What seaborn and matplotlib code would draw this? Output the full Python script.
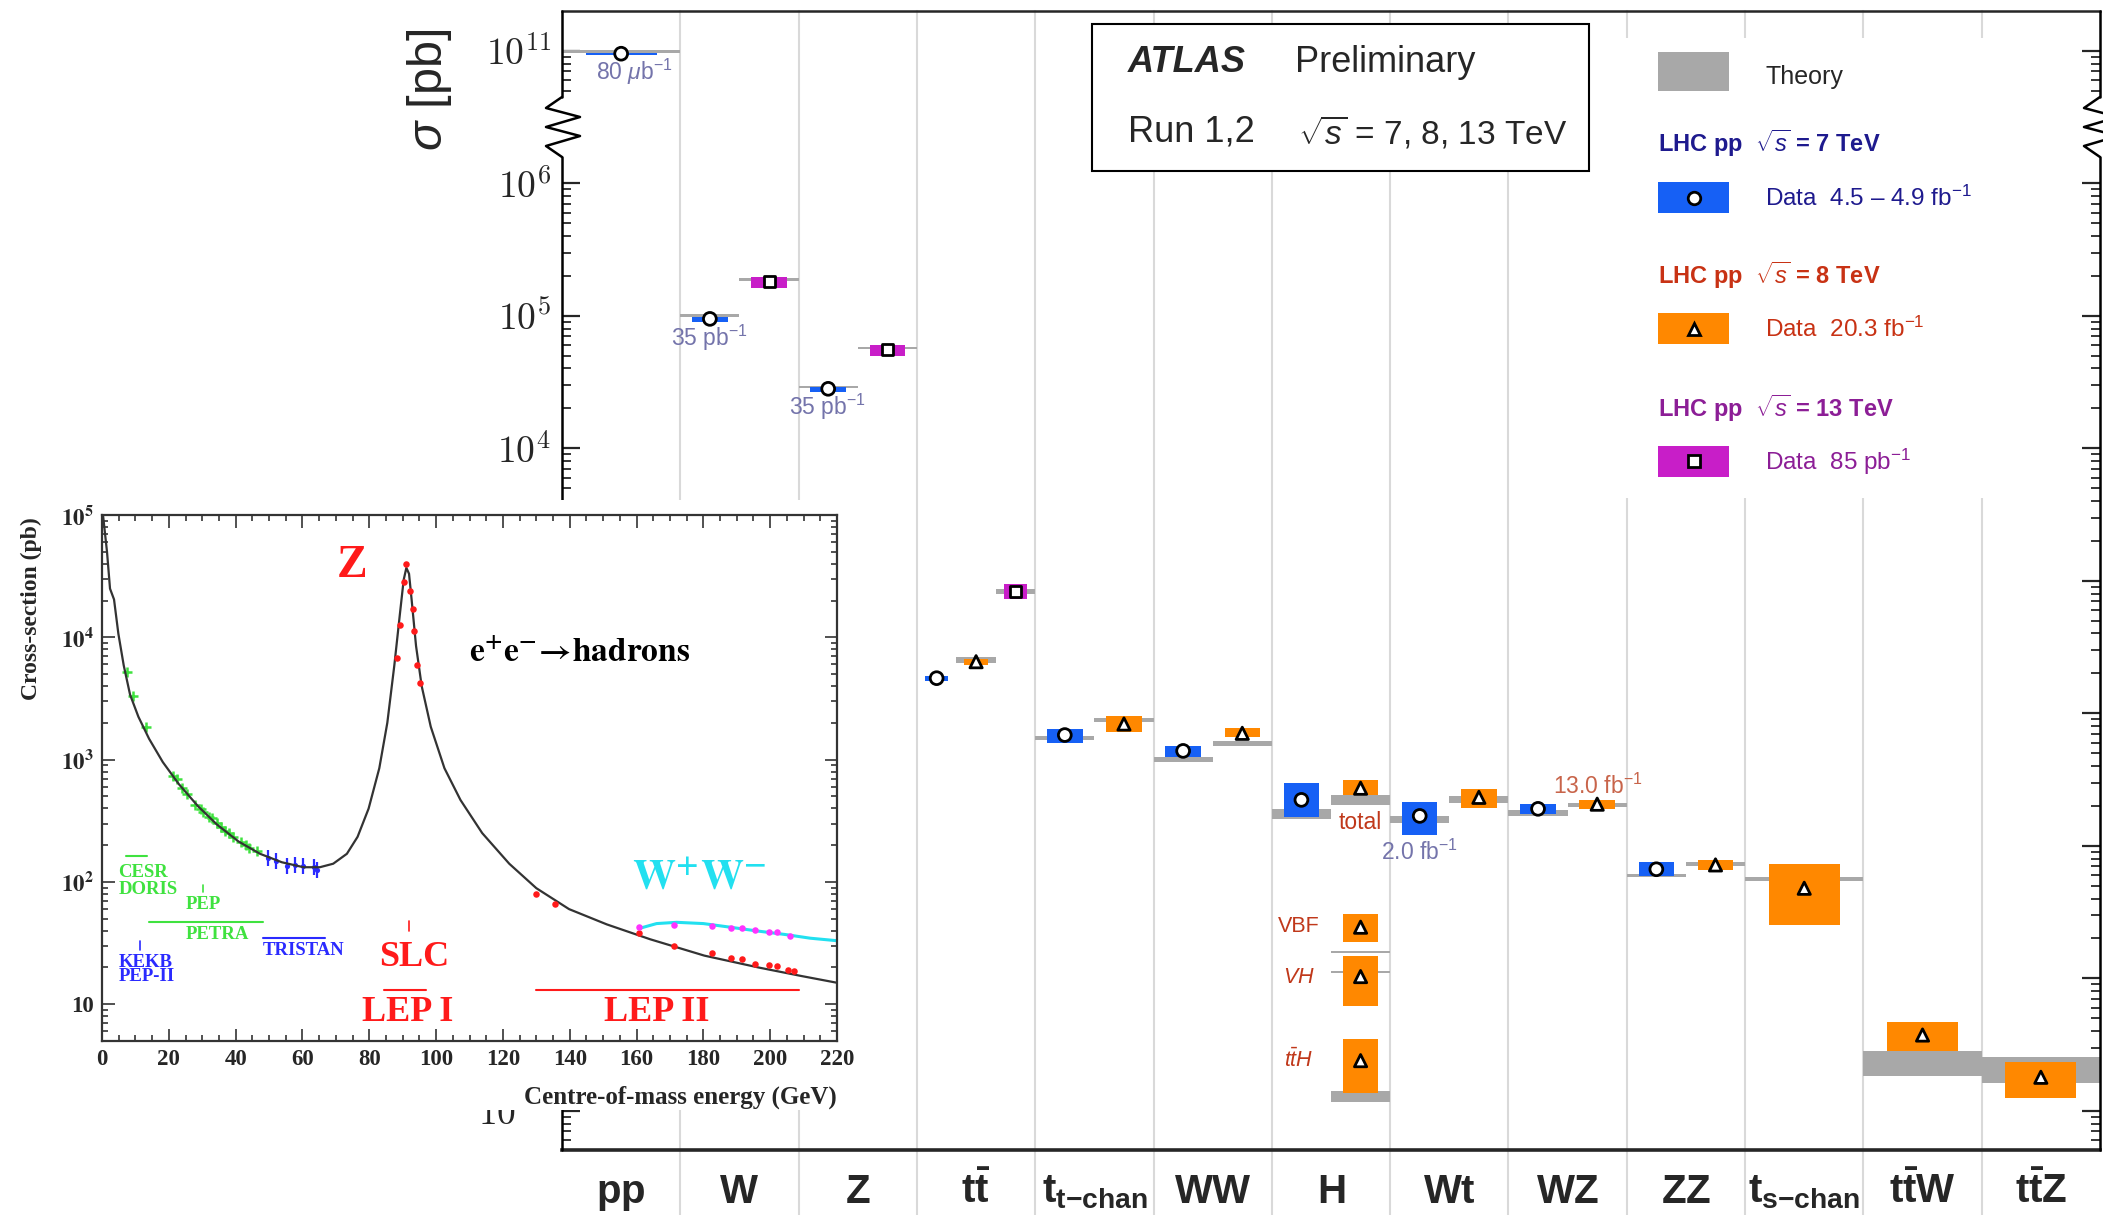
import numpy as np
import pandas as pd
import matplotlib
matplotlib.use("Agg")
import matplotlib.pyplot as plt
import matplotlib.ticker as mticker
from matplotlib.patches import Rectangle
from matplotlib.lines import Line2D
import seaborn as sns

sns.set_style("ticks")
plt.rcParams['font.family'] = ['Liberation Sans', 'DejaVu Sans']
plt.rcParams['mathtext.fontset'] = 'custom'
plt.rcParams['mathtext.rm'] = 'Liberation Sans'
plt.rcParams['mathtext.it'] = 'Liberation Sans:italic'
plt.rcParams['mathtext.bf'] = 'Liberation Sans:bold'
plt.rcParams['mathtext.sf'] = 'Liberation Sans'

# ---------------- main summary data (pb) ----------------
processes = ['pp', 'W', 'Z', 'tt', 'tchan', 'WW', 'H', 'Wt', 'WZ', 'ZZ', 'tschan', 'ttW', 'ttZ']
process_labels = [r'$\mathbf{pp}$', r'$\mathbf{W}$', r'$\mathbf{Z}$', r'$\mathbf{t\bar{t}}$',
                  r'$\mathbf{t_{t{-}chan}}$', r'$\mathbf{WW}$', r'$\mathbf{H}$', r'$\mathbf{Wt}$',
                  r'$\mathbf{WZ}$', r'$\mathbf{ZZ}$', r'$\mathbf{t_{s{-}chan}}$',
                  r'$\mathbf{t\bar{t}W}$', r'$\mathbf{t\bar{t}Z}$']
slots_per_process = [1, 2, 2, 3, 2, 2, 2, 2, 2, 2, 1, 1, 1]

meas_process = ['pp', 'W', 'W', 'Z', 'Z', 'tt', 'tt', 'tt', 'tchan', 'tchan', 'WW', 'WW',
                'H', 'H', 'H', 'H', 'H', 'Wt', 'Wt', 'WZ', 'WZ', 'ZZ', 'ZZ', 'tschan', 'ttW', 'ttZ']
meas_slot = [0, 0, 1, 0, 1, 0, 1, 2, 0, 1, 0, 1, 0, 1, 1, 1, 1, 0, 1, 0, 1, 0, 1, 0, 0, 0]
meas_energy = ['7', '7', '13', '7', '13', '7', '8', '13', '7', '8', '7', '8',
               '7', '8', '8', '8', '8', '7', '8', '7', '8', '7', '8', '8', '8', '8']
data_xsec = [9.5e10, 9.47e4, 1.80e5, 2.81e4, 5.52e4, 184, 245, 828, 68.5, 83, 52, 70.6,
             22.2, 27.2, 2.43, 1.03, 0.239, 16.8, 23.2, 19.0, 20.6, 6.65, 7.17, 4.78, 0.373, 0.179]
data_lo = [9.3e10, 9.0e4, 1.62e5, 2.68e4, 4.99e4, 175, 231, 728, 60.0, 71.8, 47.0, 66.1,
           16.4, 24.3, 1.89, 0.62, 0.136, 12.1, 19.2, 17.4, 19.0, 5.94, 6.58, 2.53, 0.283, 0.124]
data_hi = [9.7e10, 9.8e4, 1.96e5, 2.92e4, 6.03e4, 191, 256, 946, 76.2, 95.5, 56.6, 77.6,
           29.6, 31.5, 3.06, 1.48, 0.347, 21.5, 26.7, 20.6, 22.1, 7.59, 7.82, 7.3, 0.468, 0.234]
theory_lo = [9.65e10, 9.87e4, 1.84e5, 2.87e4, 5.6e4, np.nan, 239, 795, 62.9, 86.1, 42.9, 56.6,
             15.9, 20.4, 1.56, 1.10, 0.116, 14.9, 21.1, 16.8, 19.7, 5.78, 7.08, 5.45, 0.183, 0.163]
theory_hi = [1.005e11, 1.03e5, 1.92e5, 2.96e4, 5.82e4, np.nan, 265.5, 867, 67.8, 92.2, 46.8, 61.7,
             19.0, 24.3, 1.61, 1.14, 0.142, 16.8, 23.8, 18.6, 21.1, 6.12, 7.55, 5.78, 0.284, 0.254]

# pp sits above the axis break: 10^11 is drawn where 10^7 would be
break_shift = {'pp': 1e4}

ann_text = ['80 $\\mu$b$^{-1}$', '35 pb$^{-1}$', '35 pb$^{-1}$', '2.0 fb$^{-1}$', '13.0 fb$^{-1}$', 'total']
ann_x = [0.61, 1.243, 2.24, 7.244, 8.757, 6.745]
ann_y = [6.9e6, 6.8e4, 2.05e4, 9.0, 28.2, 15.1]
ann_color = ['#7474ab', '#7474ab', '#7474ab', '#7474ab', '#c8644a', '#c0381a']

higgs_text = ['VBF', '$VH$', r'$t\bar{t}H$']
higgs_y = [2.48, 1.02, 0.238]

energy_colors = {'7': '#1660f5', '8': '#ff8800', '13': '#c81ec8'}

# ---------------- inset: e+e- -> hadrons (pb vs GeV) ----------------
curve_energy = [0.3, 1.5, 2.4, 3.6, 4.9, 6.5, 8.4, 10.9, 14.1, 18.2, 23.0, 28.7, 34.4, 40.9, 47.3,
                53.8, 60.3, 65.2, 69.2, 73.3, 76.5, 79.8, 83.0, 85.4, 87.5, 89.2, 90.3, 91.1, 91.9,
                92.7, 94.0, 95.7, 98.4, 102.5, 107.3, 113.8, 121.9, 130.0, 139.8, 151.1, 164.1,
                180.3, 196.5, 209.5, 220.0]
curve_sigma = [1e5, 5.0e4, 2.5e4, 2.04e4, 1.07e4, 5.9e3, 3.4e3, 2.24e3, 1.48e3, 955, 631, 417, 295,
               214, 170, 145, 132, 132, 141, 170, 234, 398, 851, 2.0e3, 5.9e3, 1.58e4, 2.95e4,
               3.7e4, 3.31e4, 2.0e4, 8.5e3, 3.98e3, 1.86e3, 851, 468, 251, 141, 89, 60, 45, 34,
               25, 20, 17, 15]
ww_energy = [160.8, 166, 172, 180, 188, 196, 204.5, 212, 220]
ww_sigma = [41.7, 45.7, 46.8, 45.7, 42.7, 39.8, 37.2, 34.7, 33.1]
green_energy = [7.6, 9.2, 13.3, 21.4, 22.5, 23.8, 25.4, 27.9, 29.5, 30.3, 31.9, 33, 34.4, 35.5,
                36.8, 38, 39.2, 41.7, 43, 44.1, 46.5]
green_sigma = [5250, 3310, 1860, 741, 692, 589, 525, 427, 398, 372, 339, 331, 302, 282, 263, 251,
               234, 214, 200, 191, 178]
blue_energy = [49.8, 52.2, 55.4, 57.9, 60.3, 63.5, 64.3]
blue_sigma = [158, 148, 135, 138, 135, 132, 126]
red_energy = [88.3, 89.1, 90.3, 91.1, 92.2, 93.0, 93.5, 94.3, 95.1,
              130, 135.7, 160.8, 171.3, 182.7, 188.3, 191.6, 195.6, 199.7, 202, 205.3, 207]
red_sigma = [6760, 12600, 28200, 39800, 24000, 17000, 11200, 5890, 4270,
             79.4, 66.1, 38.0, 30.2, 26.3, 24.0, 23.4, 21.4, 20.9, 20.4, 19.1, 18.6]
mag_energy = [160.8, 171.3, 182.7, 188.3, 191.6, 195.6, 199.7, 202, 206]
mag_sigma = [42.7, 44.7, 43.7, 41.7, 41.7, 40.7, 38.9, 38.9, 36.3]

W_PX, H_PX = 2103, 1215


def fx(px):
    return px / W_PX


def fy(py):
    return 1 - py / H_PX


df = pd.DataFrame({'process': meas_process, 'slot': meas_slot, 'energy': meas_energy,
                   'data': data_xsec, 'data_lo': data_lo, 'data_hi': data_hi,
                   'theory_lo': theory_lo, 'theory_hi': theory_hi})
df['col'] = df['process'].map(processes.index)
df['nslot'] = df['col'].map(lambda c: slots_per_process[c])
df['x'] = df['col'] + (df['slot'] + 0.5) / df['nslot']
df['shift'] = df['process'].map(lambda p: break_shift.get(p, 1.0))
df['y'] = df['data'] / df['shift']

fig = plt.figure(figsize=(21.03, 12.15), dpi=100)
ax = fig.add_axes([fx(562), fy(1150), fx(2100) - fx(562), fy(11) - fy(1150)])
ax.set_yscale('log')
ax.set_xlim(0, len(processes))
ax.set_ylim(10 ** -1.296, 10 ** 7.30)

# column separators, running down through the label row
for b in range(1, len(processes)):
    ax.plot([b, b], [-0.06, 1], transform=ax.get_xaxis_transform(), color='#d9d9d9',
            lw=1.5, clip_on=False, zorder=1)

# theory bands
th = df.dropna(subset=['theory_lo'])
ax.bar(th['col'] + th['slot'] / th['nslot'], (th['theory_hi'] - th['theory_lo']) / th['shift'],
       bottom=th['theory_lo'] / th['shift'], width=1 / th['nslot'], align='edge',
       color='#a8a8a8', linewidth=0, zorder=2)

# data uncertainty boxes
for e, c in energy_colors.items():
    sub = df[df['energy'] == e]
    ax.bar(sub['x'], (sub['data_hi'] - sub['data_lo']) / sub['shift'],
           bottom=sub['data_lo'] / sub['shift'], width=0.6 / sub['nslot'],
           color=c, linewidth=0, zorder=3)

sns.scatterplot(data=df, x='x', y='y', style='energy', markers={'7': 'o', '8': '^', '13': 's'},
                size='energy', sizes={'7': 85, '8': 78, '13': 62}, color='white',
                edgecolor='black', linewidth=2, legend=False, zorder=5, ax=ax)
ax.set_xlabel('')
ax.set_ylabel('')

for t, x, y, c in zip(ann_text, ann_x, ann_y, ann_color):
    ax.text(x, y, t, color=c, fontsize=16.5, ha='center', va='center', zorder=6)
for t, y in zip(higgs_text, higgs_y):
    ax.text(6.23, y, t, color='#c0381a', fontsize=15.5, ha='center', va='center', zorder=6)

# axes ticks
ax.set_xticks(np.arange(len(processes)) + 0.5)
ax.set_xticklabels(process_labels, fontsize=29)
ax.tick_params(axis='x', length=0, pad=38)
for lbl in ax.get_xticklabels():
    lbl.set_verticalalignment('baseline')

major_ticks = [10.0 ** k for k in range(-1, 8)]
major_labels = ['$10^{%d}$' % k for k in range(-1, 7)] + ['$10^{11}$']
minor_ticks = [m * 10.0 ** k for k in range(-2, 6) for m in range(2, 10)] + [m * 1e6 for m in range(5, 10)]
minor_ticks = [t for t in minor_ticks if 10 ** -1.296 < t < 10 ** 7.3]
ax.set_yticks(major_ticks, labels=major_labels)
ax.set_yticks(minor_ticks, minor=True)
ax.yaxis.set_minor_formatter(mticker.NullFormatter())
ax.tick_params(axis='y', which='both', direction='in', left=True, right=True, labelsize=27, pad=8)
ax.tick_params(axis='y', which='major', length=13, width=1.6)
ax.tick_params(axis='y', which='minor', length=6.5, width=1.3)
for lbl in ax.get_yticklabels():
    lbl.set_math_fontfamily('cm')

# frame with the axis-break zigzag on both sides
ax.spines['left'].set_visible(False)
ax.spines['right'].set_visible(False)
ax.spines['top'].set_linewidth(1.8)
ax.spines['bottom'].set_linewidth(2.6)
zig_y = np.array([(1150 - p) / 1139 for p in [97, 108, 117, 127, 136, 146, 157]])
zig_dx = np.array([0, -16, 18, -16, 18, -16, 0]) / 1538
for x0 in [0, 1]:
    ax.plot([x0, x0], [0, zig_y[-1]], transform=ax.transAxes, color='black', lw=1.8, clip_on=False, zorder=6)
    ax.plot([x0, x0], [zig_y[0], 1], transform=ax.transAxes, color='black', lw=1.8, clip_on=False, zorder=6)
    ax.plot(x0 + zig_dx, zig_y, transform=ax.transAxes, color='black', lw=1.8, clip_on=False, zorder=6)

fig.text(fx(430), fy(90), r'$\sigma$ [pb]', rotation=90, fontsize=35, ha='center', va='center')

# ATLAS box
fig.add_artist(Rectangle((fx(1092), fy(171)), fx(1589) - fx(1092), fy(24) - fy(171),
                         transform=fig.transFigure, facecolor='white', edgecolor='black', lw=1.5, zorder=3))
fig.text(fx(1128), fy(62), 'ATLAS', fontsize=26, fontweight='bold', fontstyle='italic', va='center', zorder=4)
fig.text(fx(1295), fy(62), 'Preliminary', fontsize=26, va='center', zorder=4)
fig.text(fx(1128), fy(132), 'Run 1,2', fontsize=26, va='center', zorder=4)
fig.text(fx(1298), fy(132), r'$\sqrt{s}$ = 7, 8, 13 TeV', fontsize=24, va='center', zorder=4)

# legend
fig.add_artist(Rectangle((fx(1620), fy(498)), fx(2080) - fx(1620), fy(38) - fy(498),
                         transform=fig.transFigure, facecolor='white', edgecolor='none', zorder=3))
fig.add_artist(Rectangle((fx(1658), fy(91)), fx(71), fy(52) - fy(91), transform=fig.transFigure,
                         facecolor='#a8a8a8', edgecolor='none', zorder=4))
fig.text(fx(1765), fy(77), 'Theory', fontsize=18, va='center', zorder=4)
legend_rows = [('7', '#1e1a8e', 143, 182, 'o', r'Data  4.5 – 4.9 fb$^{-1}$'),
               ('8', '#c83214', 275, 313, '^', r'Data  20.3 fb$^{-1}$'),
               ('13', '#8c1e96', 408, 446, 's', r'Data  85 pb$^{-1}$')]
for e, tc, ty, by, mk, dtxt in legend_rows:
    fig.text(fx(1658), fy(ty), r'LHC pp  $\sqrt{s}$ = %s TeV' % e, color=tc, fontsize=17,
             fontweight='bold', va='center', zorder=4)
    fig.add_artist(Rectangle((fx(1658), fy(by + 31)), fx(71), fy(by) - fy(by + 31),
                             transform=fig.transFigure, facecolor=energy_colors[e], edgecolor='none', zorder=4))
    fig.add_artist(Line2D([fx(1694)], [fy(by + 15.5)], marker=mk, ms=9 if mk != 's' else 8.5,
                          mfc='white', mec='black', mew=2, transform=fig.transFigure, zorder=5))
    fig.text(fx(1765), fy(by + 16), dtxt, color=tc, fontsize=17.5, va='center', zorder=4)

# ---------------- inset ----------------
fig.add_artist(Rectangle((fx(20), fy(1110)), fx(858) - fx(20), fy(500) - fy(1110),
                         transform=fig.transFigure, facecolor='white', edgecolor='none', zorder=4))
ins = fig.add_axes([fx(102), fy(1041), fx(837) - fx(102), fy(515) - fy(1041)])
ins.set_zorder(5)
ins.set_yscale('log')

red, green, blue = '#ff1a1a', '#3fe23f', '#2a2aff'
sns.lineplot(x=curve_energy, y=curve_sigma, color='#333333', lw=1.6, estimator=None, sort=False, ax=ins)
sns.lineplot(x=ww_energy, y=ww_sigma, color='#22e0f0', lw=2.2, estimator=None, sort=False, ax=ins)
sns.scatterplot(x=green_energy, y=green_sigma, color=green, marker='+', s=45, linewidth=1.8, ax=ins)
sns.scatterplot(x=blue_energy, y=blue_sigma, color=blue, marker='|', s=120, linewidth=1.6, ax=ins)
sns.scatterplot(x=blue_energy, y=blue_sigma, color=blue, s=14, linewidth=0, ax=ins)
sns.scatterplot(x=red_energy, y=red_sigma, color=red, s=22, linewidth=0, ax=ins, zorder=4)
sns.scatterplot(x=mag_energy, y=mag_sigma, color='#ff33ff', s=22, linewidth=0, ax=ins, zorder=4)
ins.set_xlabel('')
ins.set_ylabel('')

# experiment ranges
ins.plot([7.1, 13.6], [162, 162], color=green, lw=1.5)
ins.plot([14.1, 48.2], [46.8, 46.8], color=green, lw=1.5)
ins.plot([30.3, 30.3], [83, 95], color=green, lw=1.2)
ins.plot([48.2, 66.8], [34.7, 34.7], color=blue, lw=1.5)
ins.plot([11.3, 11.3], [28, 33], color=blue, lw=1.2)
ins.plot([91.9, 91.9], [40, 48], color=red, lw=1.2)
ins.plot([84.3, 97.1], [13.2, 13.2], color=red, lw=1.5)
ins.plot([130, 208.7], [13.2, 13.2], color=red, lw=1.5)

serif = dict(family='Liberation Serif', weight='bold', math_fontfamily='stix')
ins.text(74.9, 3.8e4, 'Z', color=red, fontsize=33, ha='center', va='center', **serif)
ins.text(109.8, 7.4e3, r'$\mathbf{e^{+}e^{-}\!\rightarrow\!hadrons}$', color='black', fontsize=24,
         ha='left', va='center', **serif)
ins.text(178.7, 107, r'$\mathbf{W^{+}W^{-}}$', color='#22e0f0', fontsize=31, ha='center', va='center', **serif)
for t, x, y, c, ha in [('CESR', 4.9, 120, green, 'left'), ('DORIS', 4.9, 87, green, 'left'),
                       ('PEP', 30.3, 65, green, 'center'), ('PETRA', 34.4, 37, green, 'center'),
                       ('TRISTAN', 60.3, 27.5, blue, 'center'), ('KEKB', 4.9, 21.9, blue, 'left'),
                       ('PEP-II', 4.9, 17, blue, 'left')]:
    ins.text(x, y, t, color=c, fontsize=13.5, ha=ha, va='center', **serif)
ins.text(93.5, 24, 'SLC', color=red, fontsize=26, ha='center', va='center', **serif)
ins.text(91.4, 8.5, 'LEP I', color=red, fontsize=26, ha='center', va='center', **serif)
ins.text(166, 8.5, 'LEP II', color=red, fontsize=26, ha='center', va='center', **serif)

ins.set_xlim(0, 220)
ins.set_ylim(10 ** 0.7, 1e5)
ins.set_xticks(range(0, 221, 20))
ins.xaxis.set_minor_locator(mticker.AutoMinorLocator(4))
ins.set_yticks([10, 100, 1e3, 1e4, 1e5], labels=['10', r'$\mathbf{10^{2}}$', r'$\mathbf{10^{3}}$',
                                                 r'$\mathbf{10^{4}}$', r'$\mathbf{10^{5}}$'])
ins.yaxis.set_minor_locator(mticker.LogLocator(subs=np.arange(2, 10)))
ins.yaxis.set_minor_formatter(mticker.NullFormatter())
ins.tick_params(which='both', direction='in', top=True, right=True, width=1.2, color='#333333')
ins.tick_params(which='major', length=9, labelsize=16.5, pad=6)
ins.tick_params(which='minor', length=4.5)
for lbl in ins.get_xticklabels() + ins.get_yticklabels():
    lbl.set_fontfamily('Liberation Serif')
    lbl.set_fontweight('bold')
    lbl.set_math_fontfamily('stix')
for s in ins.spines.values():
    s.set_linewidth(1.6)
    s.set_color('#333333')

fig.text(fx(31), fy(517), 'Cross-section (pb)', rotation=90, fontsize=17, ha='center', va='top',
         family='Liberation Serif', weight='bold', zorder=6)
fig.text(fx(837), fy(1097), 'Centre-of-mass energy (GeV)', fontsize=18, ha='right', va='center',
         family='Liberation Serif', weight='bold', zorder=6)

fig.savefig('out.png', dpi=100, facecolor='white')
